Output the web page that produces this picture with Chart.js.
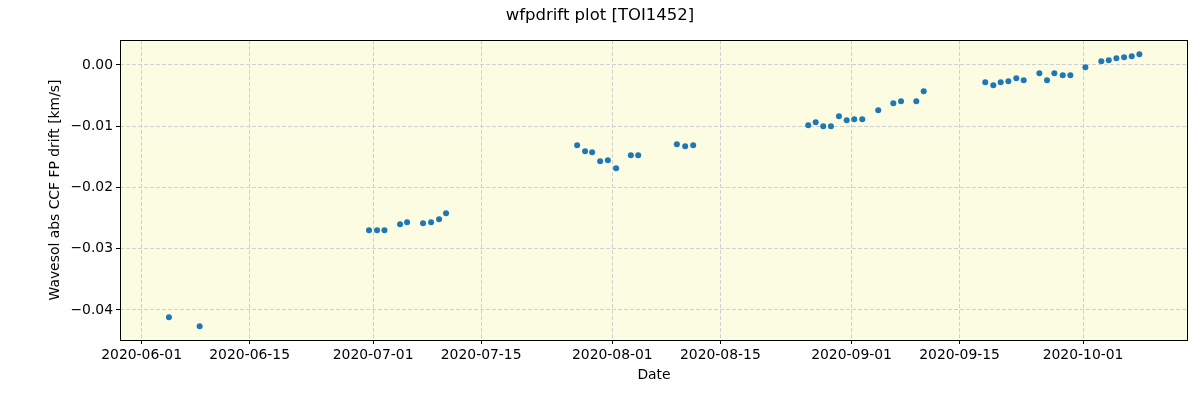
<!DOCTYPE html>
<html>
<head>
<meta charset="utf-8">
<script src="https://cdn.jsdelivr.net/npm/chart.js@4/dist/chart.umd.min.js"></script>
<style>
html,body{margin:0;padding:0;background:#fff;}
#wrap{width:1200px;height:400px;}
</style>
</head>
<body>
<div id="wrap"><canvas id="c" width="1200" height="400"></canvas></div>
<script>
const dates = [
  "2020-06-04T13:00Z","2020-06-08T12:30Z",
  "2020-06-30T11:15Z","2020-07-01T12:15Z","2020-07-02T11:15Z","2020-07-04T11:45Z","2020-07-05T09:40Z",
  "2020-07-07T11:15Z","2020-07-08T12:15Z","2020-07-09T13:10Z","2020-07-10T10:50Z",
  "2020-07-27T10:35Z","2020-07-28T11:15Z","2020-07-29T09:10Z","2020-07-30T10:05Z","2020-07-31T10:05Z",
  "2020-08-01T11:45Z","2020-08-03T09:35Z","2020-08-04T08:25Z","2020-08-09T08:40Z","2020-08-10T10:35Z","2020-08-11T11:30Z",
  "2020-08-26T09:20Z","2020-08-27T08:25Z","2020-08-28T07:55Z","2020-08-29T07:55Z","2020-08-30T08:50Z","2020-08-31T08:50Z",
  "2020-09-01T08:25Z","2020-09-02T09:20Z","2020-09-04T11:00Z","2020-09-06T09:50Z","2020-09-07T09:50Z","2020-09-09T09:20Z","2020-09-10T08:25Z",
  "2020-09-18T07:55Z","2020-09-19T08:50Z","2020-09-20T07:55Z","2020-09-21T07:40Z","2020-09-22T08:25Z","2020-09-23T07:25Z",
  "2020-09-25T08:10Z","2020-09-26T07:55Z","2020-09-27T06:45Z","2020-09-28T08:50Z","2020-09-29T08:40Z",
  "2020-10-01T07:10Z","2020-10-03T08:50Z","2020-10-04T07:55Z","2020-10-05T07:40Z","2020-10-06T07:40Z","2020-10-07T07:25Z","2020-10-08T07:10Z"
];
const drift = [
  -0.04119,-0.04266,
  -0.02699,-0.02699,-0.02699,-0.02601,-0.02568,
  -0.02584,-0.02568,-0.02519,-0.02421,
  -0.01311,-0.01409,-0.01425,-0.01572,-0.01556,
  -0.01687,-0.01474,-0.01474,-0.01295,-0.01327,-0.01311,
  -0.00984,-0.00936,-0.01001,-0.01001,-0.00838,-0.00903,
  -0.00887,-0.00887,-0.00740,-0.00625,-0.00593,-0.00593,-0.00429,
  -0.00282,-0.00331,-0.00282,-0.00266,-0.00217,-0.00250,
  -0.00136,-0.00250,-0.00136,-0.00168,-0.00168,
  -0.00038,0.00060,0.00077,0.00109,0.00126,0.00142,0.00175
];
const xTickLabels = ["2020-06-01","2020-06-15","2020-07-01","2020-07-15","2020-08-01","2020-08-15","2020-09-01","2020-09-15","2020-10-01"];
const yTickValues = [-0.04,-0.03,-0.02,-0.01,0.00];

const DAY = 86400000;
const t0 = Date.parse("2020-06-01T00:00Z");
const points = dates.map((d,i)=>({x: Date.parse(d), y: drift[i]}));
const xTicks = xTickLabels.map(s=>Date.parse(s+"T00:00Z"));

function fmtDate(ms){
  const d = new Date(ms);
  const p = n => String(n).padStart(2,'0');
  return d.getUTCFullYear()+"-"+p(d.getUTCMonth()+1)+"-"+p(d.getUTCDate());
}
function fmtY(v){
  const s = Math.abs(v).toFixed(2);
  return (v < -1e-9 ? "\u2212" : "") + s;
}
const FONT = "'DejaVu Sans', sans-serif";
const GRID = 'rgb(208,208,212)';

const decor = {
  id: 'decor',
  beforeDraw(chart){
    const {ctx, chartArea:a} = chart;
    ctx.save();
    ctx.fillStyle = 'rgb(252,252,227)';
    ctx.fillRect(a.left, a.top, a.right-a.left, a.bottom-a.top);
    ctx.restore();
  },
  afterDraw(chart){
    const {ctx, chartArea:a} = chart;
    ctx.save();
    ctx.strokeStyle = '#000';
    ctx.lineWidth = 1;
    ctx.setLineDash([]);
    ctx.strokeRect(Math.round(a.left)+0.5, Math.round(a.top)+0.5, Math.round(a.right-a.left)-1, Math.round(a.bottom-a.top));
    ctx.fillStyle = '#000';
    ctx.textAlign = 'center';
    ctx.textBaseline = 'middle';
    ctx.font = "16.5px " + FONT;
    ctx.fillText("wfpdrift plot [TOI1452]", 600, 16);
    ctx.font = "13.9px " + FONT;
    ctx.fillText("Date", (a.left+a.right)/2, 375);
    ctx.translate(55, (a.top+a.bottom)/2);
    ctx.rotate(-Math.PI/2);
    ctx.fillText("Wavesol abs CCF FP drift [km/s]", 0, 0);
    ctx.restore();
  }
};

new Chart(document.getElementById('c'), {
  type: 'scatter',
  data: { datasets: [{
    data: points,
    backgroundColor: '#1f77b4',
    borderWidth: 0,
    pointRadius: 3,
    pointHoverRadius: 3
  }]},
  options: {
    responsive: false,
    animation: false,
    layout: { padding: { top: 40, right: 12, left: 0, bottom: 0 } },
    plugins: { legend: { display: false }, tooltip: { enabled: false }, title: { display: false } },
    scales: {
      x: {
        type: 'linear',
        min: t0 - 2.8*DAY,
        max: t0 + 135.6*DAY,
        afterBuildTicks: s => { s.ticks = xTicks.map(v=>({value:v})); },
        afterFit: s => { s.height = 60; },
        ticks: { callback: v => fmtDate(v), color: '#000', font: { family: FONT, size: 13.9 }, padding: 3, maxRotation: 0, autoSkip: false },
        grid: { color: GRID, tickColor: '#000', tickLength: 4, lineWidth: 1, tickBorderDash: [] },
        border: { display: false, dash: [4,2] }
      },
      y: {
        type: 'linear',
        min: -0.0449,
        max: 0.00408,
        afterBuildTicks: s => { s.ticks = yTickValues.map(v=>({value:v})); },
        afterFit: s => { s.width = 120; },
        ticks: { callback: v => fmtY(v), color: '#000', font: { family: FONT, size: 13.9 }, padding: 3, autoSkip: false },
        grid: { color: GRID, tickColor: '#000', tickLength: 4, lineWidth: 1, tickBorderDash: [] },
        border: { display: false, dash: [4,2] }
      }
    }
  },
  plugins: [decor]
});
</script>
</body>
</html>
